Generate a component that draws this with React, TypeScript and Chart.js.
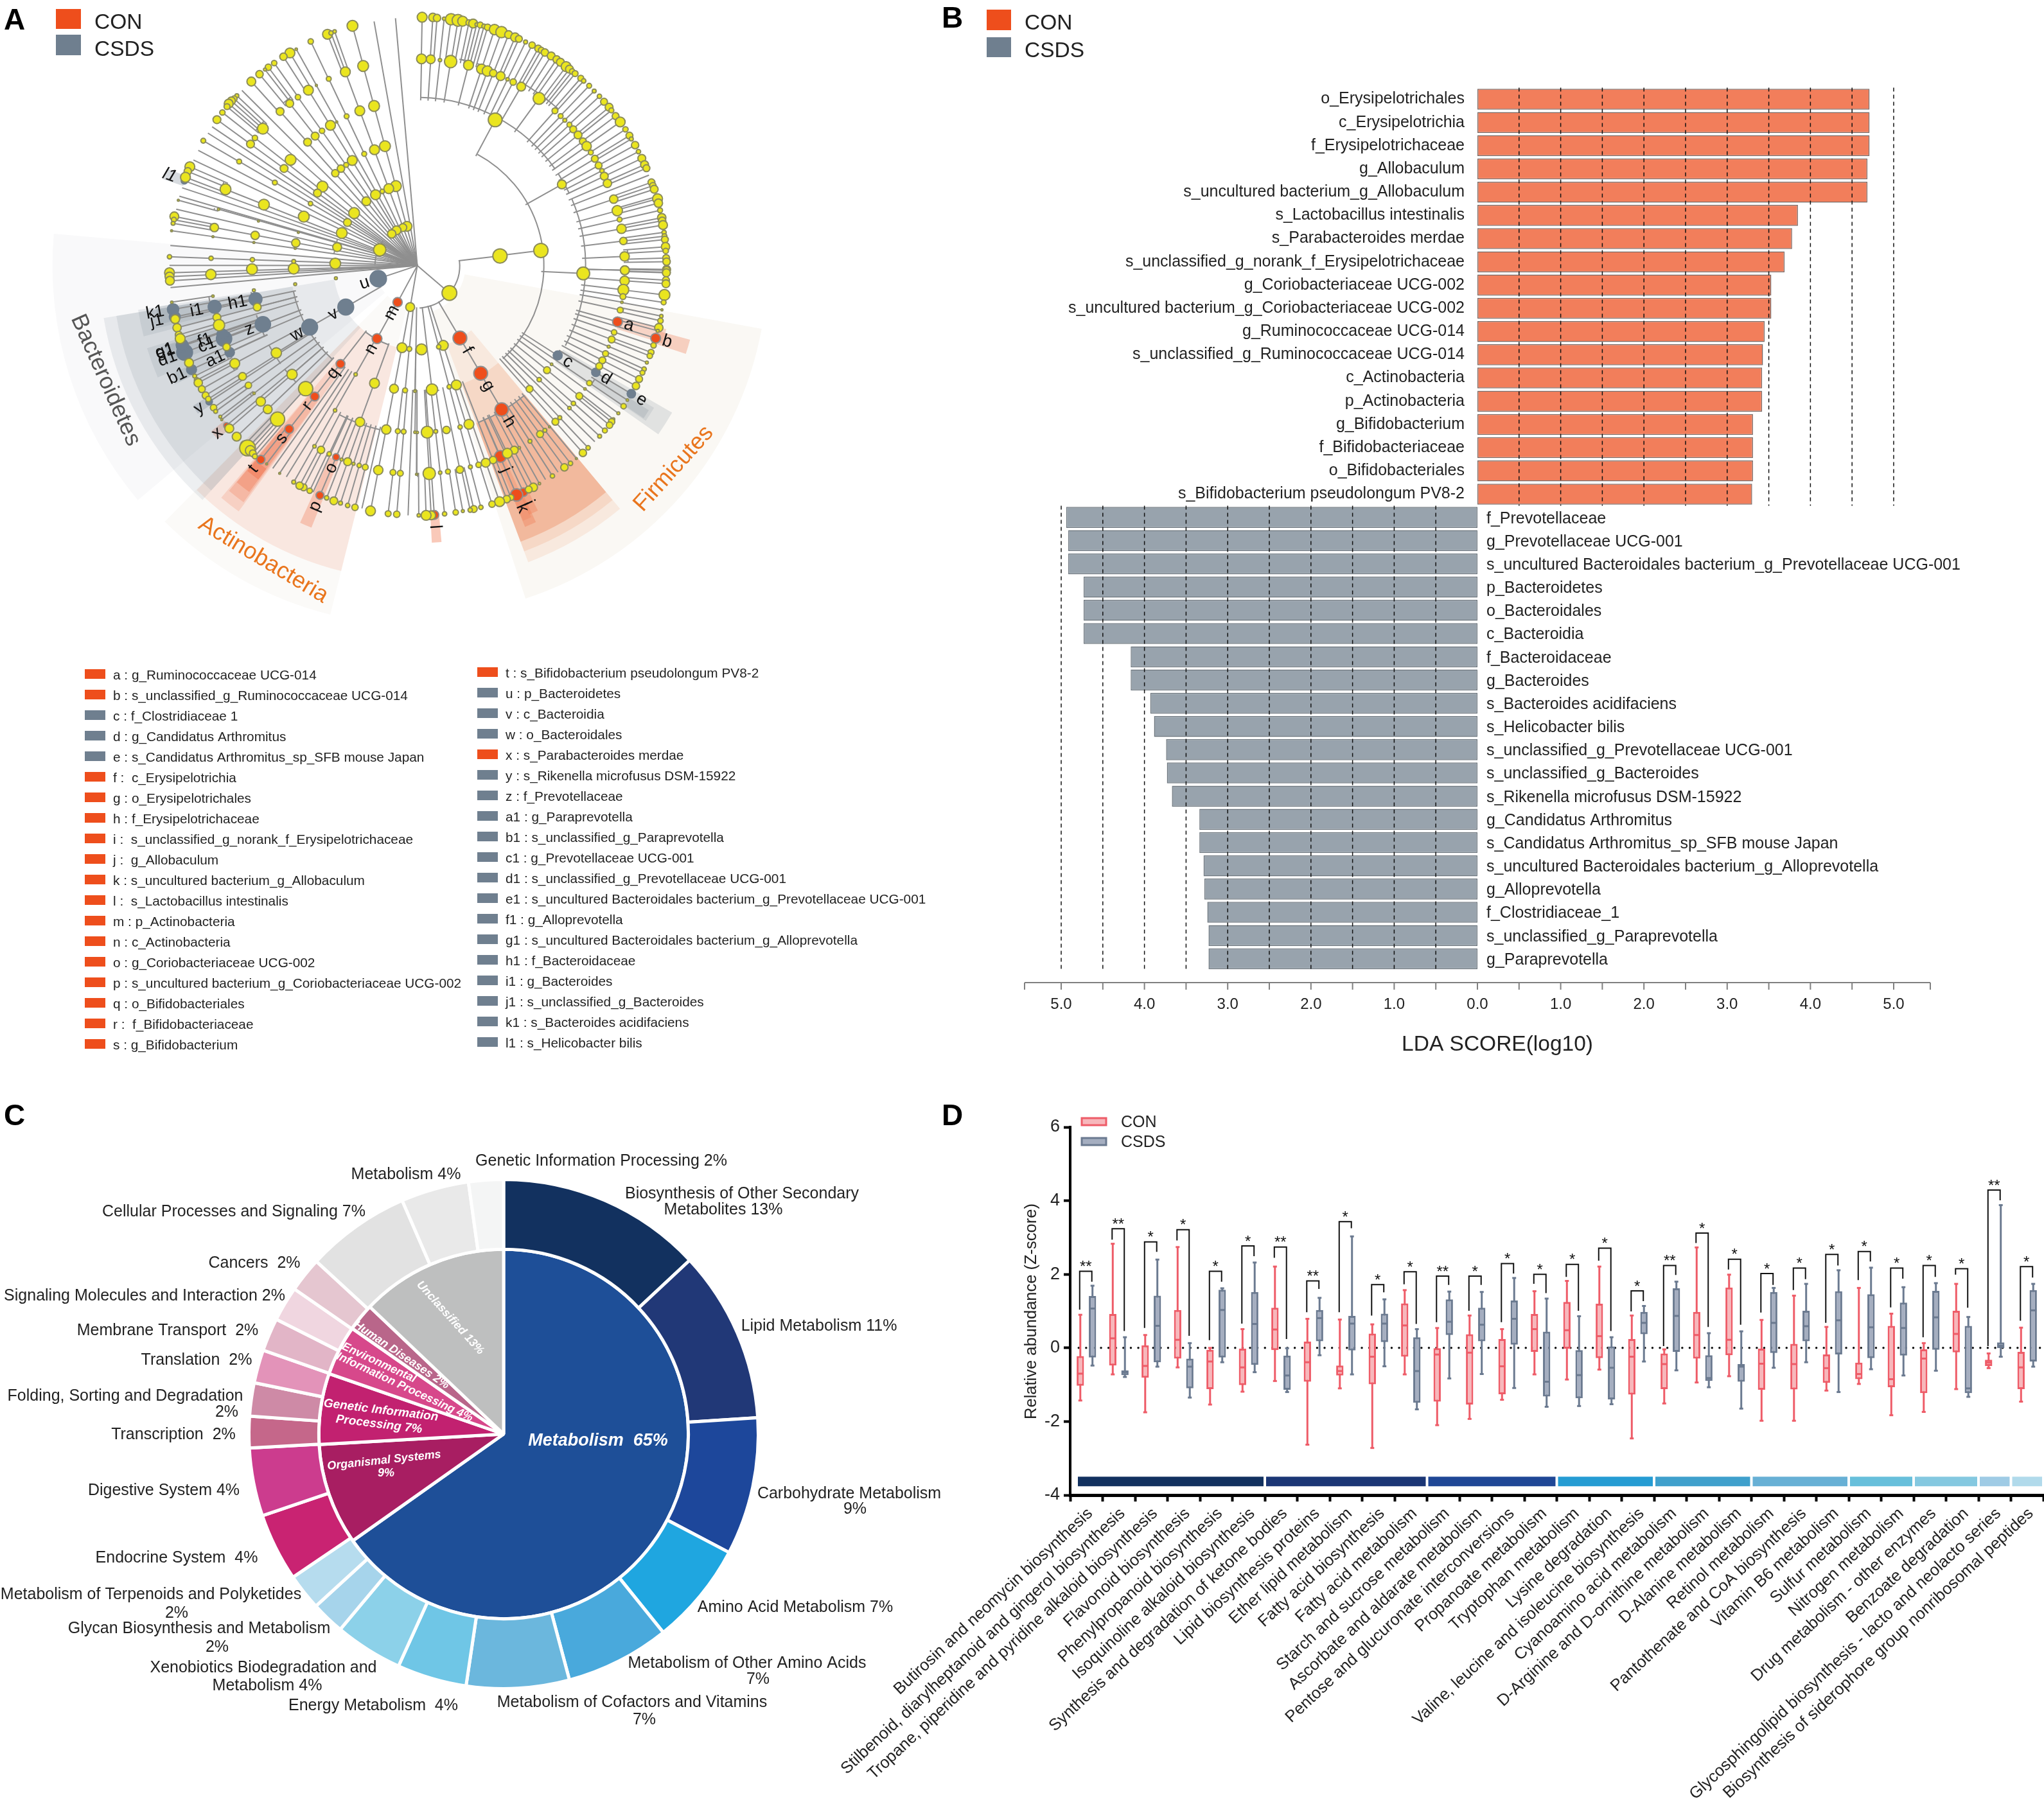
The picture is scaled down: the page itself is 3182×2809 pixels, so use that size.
import React, { useEffect, useRef } from "react";
import { Chart, registerables } from "chart.js";
Chart.register(...registerables);

const FONT = "'Liberation Sans', Arial, sans-serif";
const CON_SWATCH = "#EE4E1C";
const CSDS_SWATCH = "#6F7F8F";

/* ───────── Panel A: cladogram readings, grouped by the quadrant they were read from ───────── */
const ROOT_NW = [1254, 1218];
const ROOT_NE = [24, 1218];
const ROOT_SW = [1254, 18];
const ROOT_SE = [24, 18];

const NW_SPECIES = [[945,78,22],[826,118,20],[843,112,9],[860,105,7],[746,152,11],[677,189,5],[647,207,20],[616,225,15],[572,255,11],[544,275,13],[528,286,6],[502,308,15],[463,343,18],[394,410,8],[381,425,12],[368,435,16],[355,448,18],[347,462,12],[325,490,11],[299,524,16],[234,624,10],[170,748,20],[160,770,15],[149,798,20],[96,984,18],[94,1000,10],[90,1017,8],[73,1176,9],[1048,57,0],[1150,42,0],[418,385,0],[276,558,0],[256,588,0],[210,670,0],[187,716,0],[133,848,0],[120,888,0],[115,907,4],[105,950,0],[83,1052,4],[77,1122,0],[73,1217,0]];
const NW_GENUS = [[996,269,22],[911,297,20],[832,330,10],[773,361,4],[735,384,20],[685,417,11],[646,447,16],[600,485,16],[518,567,22],[480,611,11],[459,640,16],[405,723,10],[340,855,22],[307,950,5],[287,1037,17],[280,1080,4],[271,1183,9]];
const NW_DOTS = [[1048,459,22],[980,482,20],[917,508,10],[870,535,4],[840,551,20],[800,577,11],[767,602,16],[731,631,16],[650,715,22],[619,756,16],[575,823,10],[523,928,22],[497,1006,4],[481,1074,17],[475,1108,4],[468,1190,9],[466,1235,22],[1100,650,22],[1050,667,20],[1001,687,10],[944,718,20],[915,739,10],[890,757,15],[863,779,15],[802,842,22],[778,873,16],[745,923,9],[713,985,22],[687,1060,4],[675,1110,17],[672,1136,4],[665,1198,8],[665,1232,22],[1152,840,22],[1118,852,20],[1087,865,9],[1055,881,20],[1011,912,18],[953,968,22],[921,1013,16],[894,1063,22],[872,1130,18],[863,1208,22],[1205,1031,20],[1185,1037,16],[1155,1050,18],[1132,1067,17],[1075,1143,25]];

const NE_SPECIES = [[47,37,20],[98,38,17],[118,41,15],[152,44,7],[185,47,23],[218,52,24],[240,56,20],[270,63,12],[290,67,18],[307,72,7],[324,74,12],[342,80,9],[359,85,13],[392,96,21],[425,108,23],[459,120,16],[490,133,18],[508,140,14],[540,155,8],[571,170,13],[600,186,14],[615,194,12],[632,205,15],[662,221,16],[688,238,15],[706,251,16],[733,272,20],[749,284,16],[762,295,11],[776,305,12],[803,327,12],[817,340,9],[843,363,10],[867,388,8],[892,413,9],[914,439,14],[938,465,16],[949,480,10],[969,507,14],[991,535,20],[1016,570,11],[1035,600,14],[1044,616,8],[1062,645,15],[1078,676,9],[1094,708,16],[1107,738,16],[1116,755,14],[1128,788,0],[1140,822,14],[1147,838,13],[1153,855,16],[1163,890,10],[1169,900,20],[1173,921,17],[1181,955,10],[1189,990,17],[1191,1005,15],[1195,1025,18],[1200,1060,9],[1202,1078,10],[1204,1094,14],[1207,1128,17],[1208,1148,11],[1210,1182,14],[1212,1199,15],[1212,1236,16],[1211,1250,16]];
const NE_GENUS = [[44,235,20],[88,237,18],[132,241,7],[183,248,25],[268,265,20],[330,283,20],[358,293,21],[386,303,15],[421,317,18],[454,332,7],[481,345,13],[519,367,18],[604,423,24],[680,482,12],[707,507,10],[727,527,8],[749,548,10],[767,570,14],[790,597,16],[813,627,14],[831,650,19],[851,680,10],[870,710,14],[888,742,14],[904,767,9],[915,793,16],[930,827,17],[960,902,17],[977,957,21],[988,999,10],[997,1043,19],[1006,1101,15],[1012,1174,19],[1013,1240,18]];
const NE_FAMILY = [[395,525,28],[713,832,18]];
const NE_ORDER = [[613,1146,29]];
const NE_CLASS = [[418,1172,29]];

const SE_PHYLUM = [[177,148,30]];
const SE_FAMILY = [[815,55,26]];
const SE_SIDE = [[1212,40,15],[1211,52,16],[1209,87,14],[1209,104,16],[1202,157,22],[1198,193,10],[1190,228,4],[1187,258,7],[1183,280,11],[1175,313,17],[1170,328,6],[1150,397,11],[1138,430,12],[1132,447,11],[1118,479,6],[1105,510,9],[1097,527,10],[1081,557,14],[1066,590,15],[1013,40,18],[1012,90,19],[1006,133,22],[1004,165,12],[999,192,5],[991,229,12],[962,335,11],[950,369,14],[936,403,6],[921,436,12],[906,468,14],[891,496,14]];
const SE_LOWER = [[1025,657,5],[1007,686,11],[982,720,6],[958,748,6],[950,760,13],[940,776,13],[918,802,10],[893,829,8],[870,855,0],[838,884,9],[813,908,15]];
const SE_LOWER_GENUS = [[844,576,11],[823,604,5],[796,638,14],[768,673,9],[749,695,7],[703,741,8],[682,760,14]];
const SE_H_SPECIES = [[782,935,4],[754,958,9],[725,977,15],[695,1000,0],[668,1018,9],[635,1035,0],[606,1054,5],[577,1072,17],[555,1082,14],[470,1120,12],[450,1128,15]];
const SE_H_GENUS = [[654,785,3],[632,801,8],[609,819,14],[561,853,8],[510,884,5],[486,895,16],[453,910,20]];
const SE_BOTTOM = [[416,1140,20],[380,1152,13],[327,1167,9],[293,1175,14],[276,1180,9],[241,1185,6],[207,1191,11],[154,1198,9],[90,1205,18],[66,1205,20],[31,1205,7]];
const SE_BOTTOM_GENUS = [[385,942,15],[350,955,18],[316,965,11],[277,975,8],[227,988,15],[170,997,10],[133,1002,7],[81,1006,25],[22,1010,4]];
const SE_CHAINS = [[210,585,20],[176,594,9],[94,607,23],[14,613,5]];
const SE_DOTS = [[664,487,5],[642,515,14],[605,560,9],[559,604,14],[270,772,20],[228,785,9],[163,799,15],[112,806,8],[71,810,24],[24,811,5],[148,397,20],[126,404,9],[44,416,22]];

const SW_FROM_ROOT = [[1220,215,18],[84,192,5],[78,122,0],[73,52,20],[73,70,18],[75,90,18]];
const SW_FROM_66 = [[1181,408,20],[1216,414,10]];
const SW_FROM_131 = [[1143,603,18],[1196,611,10],[1243,615,5],[1050,577,20],[960,535,7]];
const SW_FROM_197 = [[1106,797,19],[1161,805,10],[1189,807,10],[1243,810,5],[1210,1205,0],[981,761,19],[862,706,7],[630,1022,0],[598,1005,3],[565,982,0],[166,480,18],[193,543,8],[203,562,10],[210,575,17],[227,605,14],[245,635,14],[258,652,11],[283,693,13],[293,711,8],[315,736,6],[322,750,4],[358,792,18],[393,831,18],[430,870,16],[445,885,32],[458,897,20],[470,910,14],[480,925,10],[536,960,4],[582,433,21],[657,535,21],[722,603,29],[299,264,16],[309,301,23],[345,405,15],[384,483,20],[421,545,16],[449,587,13],[476,625,5],[508,664,19],[541,701,18],[588,748,29],[491,215,16]];
const SW_FROM_262 = [[1068,990,19],[1138,1001,12],[1173,1005,12],[1250,1010,4],[990,1172,0],[957,1167,13],[922,1158,9],[888,1147,8],[856,1136,16],[822,1122,9],[757,1095,0],[741,1088,11],[712,1072,14],[693,1064,15],[665,1047,8],[100,272,18],[109,313,17],[117,347,14],[124,365,20],[1006,976,12],[977,968,9],[950,960,6],[922,950,16],[893,940,6],[834,913,9],[795,894,15],[764,877,7]];
const SW_FROM_328 = [[1031,1184,20],[1115,1197,12],[1156,1200,13]];
const SW_DOTS = [[280,163,5],[475,135,6],[672,106,6],[866,78,6],[270,60,21]];

const TREE_GROUPS = [
  [NW_SPECIES, ROOT_NW, 0],[NW_GENUS, ROOT_NW, 0],[NW_DOTS, ROOT_NW, -1],
  [NE_SPECIES, ROOT_NE, 262],[NE_GENUS, ROOT_NE, 262],[NE_FAMILY, ROOT_NE, 197],[NE_ORDER, ROOT_NE, 131],[NE_CLASS, ROOT_NE, 66],
  [SE_PHYLUM, ROOT_SE, 0],[SE_FAMILY, ROOT_SE, 197],[SE_SIDE, ROOT_SE, 262],[SE_LOWER, ROOT_SE, 197],[SE_LOWER_GENUS, ROOT_SE, 197],[SE_H_SPECIES, ROOT_SE, 262],[SE_H_GENUS, ROOT_SE, 262],[SE_BOTTOM, ROOT_SE, 197],[SE_BOTTOM_GENUS, ROOT_SE, 197],[SE_CHAINS, ROOT_SE, 66],[SE_DOTS, ROOT_SE, -1],
  [SW_FROM_ROOT, ROOT_SW, 0],[SW_FROM_66, ROOT_SW, 66],[SW_FROM_131, ROOT_SW, 131],[SW_FROM_197, ROOT_SW, 197],[SW_FROM_262, ROOT_SW, 262],[SW_FROM_328, ROOT_SW, 328],[SW_DOTS, ROOT_SW, -1],
];

/* label, quadrant root, reading x, reading y, size, arc radius its branch leaves from */
const CON_NODES = [["a",ROOT_SE,978,285,20,262],["b",ROOT_SE,1160,363,20,262],["f",ROOT_SE,227,362,28,66],["g",ROOT_SE,326,530,28,131],["h",ROOT_SE,426,702,27,197],["i",ROOT_SE,530,1095,17,262],["j",ROOT_SE,420,925,24,262],["k",ROOT_SE,497,1108,25,262],["l",ROOT_SE,105,1203,18,197],["m",ROOT_SW,1160,192,19,0],["n",ROOT_SW,1062,365,20,66],["o",ROOT_SW,867,928,14,262],["p",ROOT_SW,790,1110,16,262],["q",ROOT_SW,888,485,18,131],["r",ROOT_SW,765,640,18,197],["s",ROOT_SW,643,795,18,262],["t",ROOT_SW,508,940,17,328],["x",ROOT_SW,345,778,12,262]];
const CSDS_NODES = [["c",ROOT_SE,693,445,18,197],["d",ROOT_SE,875,525,17,262],["e",ROOT_SE,1044,627,17,262],["u",ROOT_SW,1068,80,33,0],["v",ROOT_SW,913,215,32,66],["w",ROOT_SW,741,310,32,131],["y",ROOT_SW,262,665,13,262],["z",ROOT_SW,518,297,31,197],["a1",ROOT_SW,360,430,19,262],["b1",ROOT_SW,178,512,20,262],["c1",ROOT_SW,333,365,31,262],["d1",ROOT_SW,145,430,32,262],["e1",ROOT_SW,135,400,24,262],["f1",ROOT_SW,325,345,22,262],["g1",ROOT_SW,133,395,24,262],["h1",ROOT_SW,483,177,26,197],["i1",ROOT_SW,288,214,26,262],["j1",ROOT_SW,98,262,22,262],["k1",ROOT_SW,90,226,23,262],["l1",ROOT_NW,144,815,13,0]];

const TREE_ARCS = [[66,83.5,177],[197,28.4,137.4],[262,1.3,55],[262,56.8,64.6],[262,66.7,118.4],[262,140.4,158.7],[131,200,218],[262,192.7,207.8],[197,222.2,258.5],[262,245,252.9],[262,234.3,241.8],[262,226,232],[262,256,261],[66,271,306.6],[131,278,288.2],[197,170,176.5],[328,32.7,39.7],[328,11.5,15]];

const CLADE_SHADES = [
  [75,545,100.4,162,"#FAF8F4"],[66,568,230,275,"#F9F9FA"],[66,560,194,224.6,"#FBFAF8"],
  [131,493,140.2,159.5,"rgba(240,140,90,0.14)"],[197,475,140.2,159.5,"rgba(240,140,90,0.18)"],[262,459,140.2,159.5,"rgba(235,130,85,0.36)"],[328,430,155.6,157.5,"rgba(240,120,80,0.25)"],[390,440,155.2,157.6,"rgba(240,120,80,0.35)"],[390,425,153.8,155.8,"rgba(240,120,80,0.35)"],
  [131,490,194,224.5,"rgba(240,120,80,0.14)"],[197,473,216,220.2,"rgba(240,120,80,0.2)"],[262,457,216.3,219.9,"rgba(240,110,70,0.25)"],[328,439,216.6,219.8,"rgba(240,110,70,0.3)"],[394,415,216.6,219.6,"rgba(240,100,60,0.35)"],[328,440,202,204.5,"rgba(240,110,70,0.3)"],[390,432,175,177,"rgba(240,120,80,0.4)"],[385,412,229,231.2,"rgba(240,120,80,0.28)"],
  [326,400,104.3,107.6,"rgba(240,120,80,0.28)"],[385,440,105.2,108.2,"rgba(240,120,80,0.32)"],
  [262,458,120,125,"rgba(110,125,140,0.18)"],[328,430,121,124.2,"rgba(110,125,140,0.14)"],[390,425,122,124,"rgba(110,125,140,0.18)"],
  [131,495,222.5,260.5,"rgba(110,125,140,0.12)"],[197,475,222.5,260.5,"rgba(110,125,140,0.14)"],
  [262,440,246.7,253,"rgba(110,125,140,0.14)"],[262,440,255.5,261,"rgba(110,125,140,0.14)"],[328,420,256.5,260.5,"rgba(110,125,140,0.14)"],[390,412,259,261,"rgba(110,125,140,0.18)"],[390,412,257.2,259,"rgba(110,125,140,0.18)"],[328,420,248.3,250.5,"rgba(110,125,140,0.14)"],[328,420,250.5,252.5,"rgba(110,125,140,0.14)"],[390,412,248.6,250.5,"rgba(110,125,140,0.18)"],[390,412,250.7,252.3,"rgba(110,125,140,0.18)"],[328,420,243.9,246.7,"rgba(110,125,140,0.14)"],[390,412,244,246.3,"rgba(110,125,140,0.18)"],[385,412,236,238,"rgba(110,125,140,0.25)"],[385,418,288.8,291.2,"rgba(110,125,140,0.28)"],
];

const LEGEND_LEFT = ["a : g_Ruminococcaceae UCG-014","b : s_unclassified_g_Ruminococcaceae UCG-014","c : f_Clostridiaceae 1","d : g_Candidatus Arthromitus","e : s_Candidatus Arthromitus_sp_SFB mouse Japan","f :  c_Erysipelotrichia","g : o_Erysipelotrichales","h : f_Erysipelotrichaceae","i :  s_unclassified_g_norank_f_Erysipelotrichaceae","j :  g_Allobaculum","k : s_uncultured bacterium_g_Allobaculum","l :  s_Lactobacillus intestinalis","m : p_Actinobacteria","n : c_Actinobacteria","o : g_Coriobacteriaceae UCG-002","p : s_uncultured bacterium_g_Coriobacteriaceae UCG-002","q : o_Bifidobacteriales","r :  f_Bifidobacteriaceae","s : g_Bifidobacterium"];
const LEGEND_LEFT_GROUP = ["CON","CON","CSDS","CSDS","CSDS","CON","CON","CON","CON","CON","CON","CON","CON","CON","CON","CON","CON","CON","CON"];
const LEGEND_RIGHT = ["t : s_Bifidobacterium pseudolongum PV8-2","u : p_Bacteroidetes","v : c_Bacteroidia","w : o_Bacteroidales","x : s_Parabacteroides merdae","y : s_Rikenella microfusus DSM-15922","z : f_Prevotellaceae","a1 : g_Paraprevotella","b1 : s_unclassified_g_Paraprevotella","c1 : g_Prevotellaceae UCG-001","d1 : s_unclassified_g_Prevotellaceae UCG-001","e1 : s_uncultured Bacteroidales bacterium_g_Prevotellaceae UCG-001","f1 : g_Alloprevotella","g1 : s_uncultured Bacteroidales bacterium_g_Alloprevotella","h1 : f_Bacteroidaceae","i1 : g_Bacteroides","j1 : s_unclassified_g_Bacteroides","k1 : s_Bacteroides acidifaciens","l1 : s_Helicobacter bilis"];
const LEGEND_RIGHT_GROUP = ["CON","CSDS","CSDS","CSDS","CON","CSDS","CSDS","CSDS","CSDS","CSDS","CSDS","CSDS","CSDS","CSDS","CSDS","CSDS","CSDS","CSDS","CSDS"];

/* ───────── Panel B ───────── */
const LDA_CON_NAMES = ["o_Erysipelotrichales","c_Erysipelotrichia","f_Erysipelotrichaceae","g_Allobaculum","s_uncultured bacterium_g_Allobaculum","s_Lactobacillus intestinalis","s_Parabacteroides merdae","s_unclassified_g_norank_f_Erysipelotrichaceae","g_Coriobacteriaceae UCG-002","s_uncultured bacterium_g_Coriobacteriaceae UCG-002","g_Ruminococcaceae UCG-014","s_unclassified_g_Ruminococcaceae UCG-014","c_Actinobacteria","p_Actinobacteria","g_Bifidobacterium","f_Bifidobacteriaceae","o_Bifidobacteriales","s_Bifidobacterium pseudolongum PV8-2"];
const LDA_CON_VALUES = [4.71,4.71,4.71,4.685,4.685,3.85,3.78,3.69,3.53,3.53,3.45,3.43,3.42,3.42,3.31,3.31,3.31,3.30];
const LDA_CSDS_NAMES = ["f_Prevotellaceae","g_Prevotellaceae UCG-001","s_uncultured Bacteroidales bacterium_g_Prevotellaceae UCG-001","p_Bacteroidetes","o_Bacteroidales","c_Bacteroidia","f_Bacteroidaceae","g_Bacteroides","s_Bacteroides acidifaciens","s_Helicobacter bilis","s_unclassified_g_Prevotellaceae UCG-001","s_unclassified_g_Bacteroides","s_Rikenella microfusus DSM-15922","g_Candidatus Arthromitus","s_Candidatus Arthromitus_sp_SFB mouse Japan","s_uncultured Bacteroidales bacterium_g_Alloprevotella","g_Alloprevotella","f_Clostridiaceae_1","s_unclassified_g_Paraprevotella","g_Paraprevotella"];
const LDA_CSDS_VALUES = [4.94,4.915,4.915,4.73,4.73,4.73,4.165,4.165,3.93,3.885,3.74,3.73,3.67,3.34,3.34,3.29,3.28,3.245,3.23,3.23];

/* ───────── Panel C ───────── */
const PIE_OUTER_NAMES = ["Biosynthesis of Other Secondary Metabolites","Lipid Metabolism","Carbohydrate Metabolism","Amino Acid Metabolism","Metabolism of Other Amino Acids","Metabolism of Cofactors and Vitamins","Energy Metabolism","Xenobiotics Biodegradation and Metabolism","Glycan Biosynthesis and Metabolism","Metabolism of Terpenoids and Polyketides","Endocrine System","Digestive System","Transcription","Folding, Sorting and Degradation","Translation","Membrane Transport","Signaling Molecules and Interaction","Cancers","Cellular Processes and Signaling","Metabolism","Genetic Information Processing"];
const PIE_OUTER_VALUES = [13,10.9,8.7,6.5,6.6,6.5,4.4,4.3,2.1,2.3,4.3,4.3,2,2.1,2.1,2.1,2.2,2.2,6.6,4.3,2.2];
const PIE_OUTER_COLORS = ["#12315F","#213877","#1D479B","#1FA6E0","#49A9DC","#6BB7DD","#6FC6E6","#8CD1E9","#A6D4EB","#B6DCEE","#C92372","#CC3C8E","#C5678A","#CE8AA6","#E393B9","#E2B5C7","#F0D6E0","#E5C6D0","#E2E2E2","#E9E9E9","#F4F5F5"];
const PIE_INNER_VALUES = [65.2,8.9,6.2,4.4,2.4,12.9];
const PIE_INNER_COLORS = ["#1E4F98","#A81E62","#C22170","#D7488B","#B9668A","#BEBFBF"];
const PIE_TEXT = [
  ["Genetic Information Processing 2%",936,1808],["Metabolism 4%",632,1829],["Biosynthesis of Other Secondary",1155,1859],["Metabolites 13%",1126,1884],["Cellular Processes and Signaling 7%",364,1887],["Cancers  2%",396,1967],["Signaling Molecules and Interaction 2%",225,2018],["Membrane Transport  2%",261,2072],["Translation  2%",306,2118],["Folding, Sorting and Degradation",195,2174],["2%",353,2199],["Transcription  2%",270,2234],["Digestive System 4%",255,2321],["Endocrine System  4%",275,2426],["Metabolism of Terpenoids and Polyketides",235,2483],["2%",275,2512],["Glycan Biosynthesis and Metabolism",310,2536],["2%",338,2565],["Xenobiotics Biodegradation and",410,2597],["Metabolism 4%",416,2625],["Energy Metabolism  4%",581,2656],["Metabolism of Cofactors and Vitamins",984,2651],["7%",1003,2678],["Metabolism of Other Amino Acids",1163,2590],["7%",1180,2615],["Amino Acid Metabolism 7%",1238,2503],["Carbohydrate Metabolism",1322,2326],["9%",1331,2350],["Lipid Metabolism 11%",1275,2065],
];
const PIE_INNER_TEXT = [
  ["Metabolism  65%",931,2244,0,27],["Organismal Systems",598,2274,-6,18],["9%",601,2294,0,18],["Genetic Information",593,2196,7,19],["Processing 7%",590,2218,7,19],["Environmental",590,2122,25,18],["Information Processing 4%",630,2160,25,18],["Human Diseases 2%",625,2110,34,18],["Unclassified 13%",701,2052,48,18],
];

/* ───────── Panel D ───────── */
const PATHWAYS = ["Butirosin and neomycin biosynthesis","Stilbenoid, diarylheptanoid and gingerol biosynthesis","Tropane, piperidine and pyridine alkaloid biosynthesis","Flavonoid biosynthesis","Phenylpropanoid biosynthesis","Isoquinoline alkaloid biosynthesis","Synthesis and degradation of ketone bodies","Lipid biosynthesis proteins","Ether lipid metabolism","Fatty acid biosynthesis","Fatty acid metabolism","Starch and sucrose metabolism","Ascorbate and aldarate metabolism","Pentose and glucuronate interconversions","Propanoate metabolism","Tryptophan metabolism","Lysine degradation","Valine, leucine and isoleucine biosynthesis","Cyanoamino acid metabolism","D-Arginine and D-ornithine metabolism","D-Alanine metabolism","Retinol metabolism","Pantothenate and CoA biosynthesis","Vitamin B6 metabolism","Sulfur metabolism","Nitrogen metabolism","Drug metabolism - other enzymes","Benzoate degradation","Glycosphingolipid biosynthesis - lacto and neolacto series","Biosynthesis of siderophore group nonribosomal peptides"];
/* low, q1, median, q3, high */
const BOX_CON = [[-1.43,-1.03,-0.70,-0.22,0.90],[-0.72,-0.48,0.26,0.92,2.83],[-1.75,-0.81,-0.49,0.07,0.35],[-0.53,-0.29,0.22,1.03,2.74],[-1.54,-1.12,-0.37,-0.05,0.0],[-1.19,-1.01,-0.53,-0.02,0.51],[-0.90,-0.06,0.50,1.09,2.21],[-2.63,-0.92,-0.39,0.17,0.79],[-1.10,-0.75,-0.63,-0.48,0.77],[-2.72,-0.99,-0.24,0.39,0.64],[-0.72,-0.24,0.61,1.21,1.57],[-2.10,-1.46,-0.18,-0.01,0.54],[-1.93,-1.54,-0.13,0.37,0.88],[-1.41,-1.26,-0.50,0.24,0.51],[-0.72,-0.11,0.51,0.92,1.54],[-0.86,-0.02,0.48,1.25,1.82],[-0.59,-0.28,0.32,1.20,2.21],[-2.46,-1.27,-0.24,0.24,0.88],[-1.51,-1.12,-0.44,-0.15,-0.04],[-0.94,-0.29,0.35,0.98,2.73],[-0.77,-0.20,0.22,1.64,1.99],[-1.98,-1.14,-0.43,-0.02,0.76],[-1.98,-1.13,-0.44,0.11,1.42],[-1.16,-0.95,-0.55,-0.18,0.57],[-0.98,-0.85,-0.71,-0.40,1.63],[-1.83,-1.07,-0.85,0.60,0.93],[-1.74,-1.23,-0.29,-0.04,0.13],[-1.12,-0.12,0.38,1.01,1.74],[-0.55,-0.49,-0.40,-0.32,-0.15],[-1.46,-1.12,-0.53,-0.11,0.55]];
const BOX_CSDS = [[-0.48,-0.26,1.07,1.41,1.69],[-0.79,-0.74,-0.66,-0.61,0.29],[-0.51,-0.39,0.60,1.42,2.40],[-1.35,-1.10,-0.51,-0.29,0.13],[-0.39,-0.26,1.03,1.58,1.62],[-0.66,-0.46,0.65,1.52,2.32],[-1.20,-1.14,-0.75,-0.21,-0.01],[-0.20,0.18,0.81,1.03,1.36],[-0.72,-0.07,0.66,0.87,3.03],[-0.50,0.16,0.66,0.93,1.32],[-1.67,-1.49,-0.63,0.29,0.51],[-0.83,0.35,0.71,1.32,1.53],[-0.71,0.18,0.63,1.09,1.52],[-1.09,0.09,0.79,1.29,1.90],[-1.60,-1.32,-0.92,0.44,1.34],[-1.58,-1.37,-0.74,-0.06,0.86],[-1.53,-1.40,-0.54,0.04,0.29],[-0.37,0.37,0.68,0.98,1.14],[-0.61,-0.11,0.87,1.62,1.80],[-1.07,-0.90,-0.82,-0.20,0.40],[-1.65,-0.92,-0.51,-0.44,0.45],[-0.54,-0.14,0.68,1.52,1.63],[-0.39,0.18,0.59,1.01,1.74],[-1.20,-0.18,0.75,1.54,2.11],[-0.58,-0.28,0.56,1.46,2.18],[-0.75,-0.21,0.54,1.23,1.65],[-0.62,-0.05,0.83,1.55,1.76],[-1.33,-1.23,-1.10,0.60,0.84],[-0.24,-0.01,0.06,0.15,3.88],[-0.51,-0.37,1.02,1.57,1.74]];
/* bracket top, left foot, right foot */
const BRACKETS = [[2.08,1.04,1.80],[3.24,2.94,0.46],[2.88,0.54,2.61],[3.21,2.92,0.33],[2.08,0.21,1.80],[2.77,0.66,2.49],[2.74,2.45,0.24],[1.82,0.97,1.60],[3.43,0.97,3.25],[1.72,0.88,1.51],[2.07,1.73,0.65],[1.95,0.70,1.71],[1.95,1.01,1.71],[2.29,0.70,2.02],[2.0,1.74,1.49],[2.27,1.93,1.01],[2.71,2.37,0.46],[1.55,0.99,1.27],[2.24,0.05,1.98],[3.12,2.85,0.57],[2.41,2.13,0.63],[2.02,0.96,1.71],[2.17,1.57,1.87],[2.54,0.68,2.24],[2.62,1.84,2.35],[2.17,1.10,1.88],[2.24,0.29,1.93],[2.15,1.99,1.09],[4.29,0.05,4.01],[2.21,0.74,1.91]];
const STARS = ["**","**","*","*","*","*","**","**","*","*","*","**","*","*","*","*","*","*","**","*","*","*","*","*","*","*","*","*","**","*"];
const BAND_SIZES = [6,5,4,3,3,3,2,2,1,1];
const BAND_COLORS = ["#12315F","#1B3675","#1F4796","#259CD3","#3FA0CC","#67B0D5","#67BFDB","#84C8E0","#9FCBE5","#B1DAEB"];

/* ───────── helpers ───────── */
function text(ctx, s, x, y, o: any = {}) {
  ctx.save();
  ctx.font = o.font || `24px ${FONT}`;
  ctx.fillStyle = o.color || "#111";
  ctx.textAlign = o.align || "left";
  ctx.textBaseline = o.baseline || "middle";
  ctx.translate(x, y);
  if (o.rot) ctx.rotate((o.rot * Math.PI) / 180);
  ctx.fillText(s, 0, 0);
  ctx.restore();
}
const base = { responsive: false, animation: false, devicePixelRatio: 1 };
const noPlugins = { legend: { display: false }, tooltip: { enabled: false } };

function legendSwatches(ctx, x, swatchW, textX, rows) {
  rows.forEach(([label, color, y0, y1, ty]) => {
    ctx.fillStyle = color;
    ctx.fillRect(x, y0, swatchW, y1 - y0);
    text(ctx, label, textX, ty, { font: `33.5px ${FONT}`, color: "#222" });
  });
}

/* tree units are px relative to the root; positive y is downward */
const DOT_SCALE = 1.15 / 3;
function treePoint(node, root) {
  return { x: (node[0] - root[0]) / 3, y: (node[1] - root[1]) / 3, r: node[2] * DOT_SCALE };
}
function colouredPoint(n) {
  return { x: (n[2] - n[1][0]) / 3, y: (n[3] - n[1][1]) / 3, r: n[4] * DOT_SCALE };
}
const bearing = (p) => {
  const a = (Math.atan2(p.x, -p.y) * 180) / Math.PI;
  return a < 0 ? a + 360 : a;
};

/* ───────── charts ───────── */
function panelA(canvas) {
  const yellow = [];
  TREE_GROUPS.forEach(([nodes, root]: any) => nodes.forEach((n) => { if (n[2] > 0) yellow.push(treePoint(n, root)); }));
  const treePlugin = {
    id: "tree",
    beforeDatasetsDraw(chart) {
      const { ctx, scales: { x: X, y: Y } } = chart;
      const cx = X.getPixelForValue(0), cy = Y.getPixelForValue(0);
      const rad = (a) => ((a - 90) * Math.PI) / 180;
      CLADE_SHADES.forEach(([r1, r2, a1, a2, color]: any) => {
        ctx.beginPath();
        ctx.arc(cx, cy, r2, rad(a1), rad(a2));
        ctx.arc(cx, cy, r1, rad(a2), rad(a1), true);
        ctx.closePath();
        ctx.fillStyle = color;
        ctx.fill();
      });
      ctx.strokeStyle = "#8F8F8F";
      ctx.lineWidth = 2;
      const line = (p, from) => {
        const r = Math.hypot(p.x, p.y);
        ctx.beginPath();
        ctx.moveTo(X.getPixelForValue((p.x / r) * from), Y.getPixelForValue((p.y / r) * from));
        ctx.lineTo(X.getPixelForValue(p.x), Y.getPixelForValue(p.y));
        ctx.stroke();
      };
      const arc = (r, a1, a2) => {
        ctx.beginPath();
        ctx.arc(cx, cy, r, rad(Math.min(a1, a2)), rad(Math.max(a1, a2)));
        ctx.stroke();
      };
      /* every drawn genus-level node can collect the species next to it */
      const genusBearings = [];
      const noteGenus = (p) => { const r = Math.hypot(p.x, p.y); if (r > 300 && r < 350) genusBearings.push(bearing(p)); };
      TREE_GROUPS.forEach(([nodes, root, from]: any) => { if (from >= 0) nodes.forEach((n) => { if (n[2] > 0) noteGenus(treePoint(n, root)); }); });
      [...CON_NODES, ...CSDS_NODES].forEach((n) => noteGenus(colouredPoint(n)));
      TREE_GROUPS.forEach(([nodes, root, from]: any) => {
        if (from < 0) return;
        nodes.forEach((n) => {
          const p = treePoint(n, root);
          const r = Math.hypot(p.x, p.y);
          if (n[2] > 0 && r > 365 && from <= 328) {
            const a = bearing(p);
            let best = null;
            genusBearings.forEach((g) => { if (best === null || Math.abs(g - a) < Math.abs(best - a)) best = g; });
            if (best !== null && Math.abs(best - a) <= 3.2) {
              line(p, 328);
              arc(328, a, best);
              return;
            }
          }
          line(p, from);
        });
      });
      [...CON_NODES, ...CSDS_NODES].forEach((n: any) => line(colouredPoint(n), n[5]));
      TREE_ARCS.forEach(([r, a1, a2]) => arc(r, a1, a2));
    },
    afterDraw(chart) {
      const { ctx, scales: { x: X, y: Y } } = chart;
      [...CON_NODES, ...CSDS_NODES].forEach((n: any) => {
        const p = colouredPoint(n);
        const r = Math.hypot(p.x, p.y);
        const a = bearing(p);
        const rot = a < 180 ? a - 90 : a - 270;
        const off = 19 + (n[0].length > 1 ? 6 : 0) + (p.r > 8 ? 4 : 0);
        text(ctx, n[0], X.getPixelForValue((p.x / r) * (r + off)), Y.getPixelForValue((p.y / r) * (r + off)), { rot, align: "center", font: `${n[0] === "l1" ? "italic " : ""}27px ${FONT}`, color: "#111" });
      });
      text(ctx, "Firmicutes", 1049, 730, { rot: -48, align: "center", font: `36px ${FONT}`, color: "#E9751D" });
      text(ctx, "Actinobacteria", 410, 872, { rot: 31, align: "center", font: `36px ${FONT}`, color: "#E9751D" });
      text(ctx, "Bacteroidetes", 164, 592, { rot: 66, align: "center", font: `36px ${FONT}`, color: "#555" });
      text(ctx, "A", 6, 33, { font: `bold 46px ${FONT}`, color: "#000" });
      legendSwatches(ctx, 87, 39, 147, [["CON", CON_SWATCH, 14, 45, 36], ["CSDS", CSDS_SWATCH, 54, 86, 78]]);
      const list = (names, groups, sx, tx, y0) => names.forEach((s, i) => {
        const y = y0 + i * 32;
        ctx.fillStyle = groups[i] === "CON" ? CON_SWATCH : CSDS_SWATCH;
        ctx.fillRect(sx, y - 8, 32, 15);
        text(ctx, s, tx, y + 2, { font: `20.8px ${FONT}`, color: "#222" });
      });
      list(LEGEND_LEFT, LEGEND_LEFT_GROUP, 132, 176, 1050);
      list(LEGEND_RIGHT, LEGEND_RIGHT_GROUP, 743, 787, 1047);
    },
  };
  const pointOpts = { pointBorderWidth: 2, pointRadius: (c) => Math.max(c.raw?.r ?? 2, 1.5), showLine: false };
  return new Chart(canvas, {
    type: "scatter",
    data: {
      datasets: [
        { label: "Not significant", data: yellow, backgroundColor: "#EAE51F", borderColor: "#8C8C5A", ...pointOpts },
        { label: "CON", data: CON_NODES.map(colouredPoint), backgroundColor: CON_SWATCH, borderColor: "#8F8F8F", ...pointOpts },
        { label: "CSDS", data: CSDS_NODES.map(colouredPoint), backgroundColor: CSDS_SWATCH, borderColor: "#6F7F8F", ...pointOpts },
      ],
    },
    options: {
      ...base,
      plugins: noPlugins,
      layout: { padding: 0 },
      scales: {
        x: { type: "linear", display: false, min: -648, max: 812 },
        y: { type: "linear", display: false, reverse: true, min: -406, max: 1284 },
      },
    },
    plugins: [treePlugin],
  });
}

function panelB(canvas, left) {
  const nCon = LDA_CON_NAMES.length;
  const names = [...LDA_CON_NAMES, ...LDA_CSDS_NAMES];
  const values = [...LDA_CON_VALUES, ...LDA_CSDS_VALUES.map((v) => -v)];
  const plugin = {
    id: "lda",
    afterDatasetsDraw(chart) {
      const { ctx, scales: { x: X, y: Y }, chartArea: ca } = chart;
      ctx.save();
      const split = (Y.getPixelForValue(nCon - 1) + Y.getPixelForValue(nCon)) / 2;
      ctx.strokeStyle = "#111";
      ctx.lineWidth = 1.5;
      ctx.setLineDash([6, 5]);
      for (let v = 0.5; v <= 5; v += 0.5) {
        ctx.beginPath(); ctx.moveTo(X.getPixelForValue(v), ca.top); ctx.lineTo(X.getPixelForValue(v), split); ctx.stroke();
        ctx.beginPath(); ctx.moveTo(X.getPixelForValue(-v), split); ctx.lineTo(X.getPixelForValue(-v), ca.bottom); ctx.stroke();
      }
      ctx.setLineDash([]);
      const axisY = 1530;
      ctx.strokeStyle = "#808080";
      ctx.lineWidth = 2;
      ctx.beginPath(); ctx.moveTo(ca.left, axisY); ctx.lineTo(ca.right, axisY); ctx.stroke();
      const tick = (px) => { ctx.beginPath(); ctx.moveTo(px, axisY); ctx.lineTo(px, axisY + 11); ctx.stroke(); };
      tick(ca.left); tick(ca.right);
      for (let v = -5; v <= 5; v += 0.5) tick(X.getPixelForValue(v));
      ctx.restore();
      names.forEach((s, i) => {
        const y = Y.getPixelForValue(i);
        if (i < nCon) text(ctx, s, X.getPixelForValue(0) - 20, y, { align: "right", font: `25px ${FONT}`, color: "#222" });
        else text(ctx, s, X.getPixelForValue(0) + 14, y + 2, { font: `25px ${FONT}`, color: "#222" });
      });
      text(ctx, "LDA SCORE(log10)", 2331 - left, 1627, { align: "center", font: `33.5px ${FONT}`, color: "#222" });
      text(ctx, "B", 1466 - left, 30, { font: `bold 46px ${FONT}`, color: "#000" });
      ctx.save();
      ctx.translate(-left, 0);
      legendSwatches(ctx, 1536, 38, 1595, [["CON", CON_SWATCH, 15, 47, 37], ["CSDS", CSDS_SWATCH, 58, 89, 80]]);
      ctx.restore();
    },
  };
  return new Chart(canvas, {
    type: "bar",
    data: {
      labels: names,
      datasets: [{
        label: "LDA",
        data: values,
        backgroundColor: values.map((v) => (v > 0 ? "#F27E5B" : "#98A3AD")),
        borderColor: values.map((v) => (v > 0 ? "#7A6A66" : "#6D767E")),
        borderWidth: 1.5,
        barPercentage: 0.9,
        categoryPercentage: 1,
        borderSkipped: false,
      }],
    },
    options: {
      ...base,
      indexAxis: "y",
      plugins: noPlugins,
      layout: { padding: { left: 1595 - left, right: 3182 - 3005, top: 136.4, bottom: 0 } },
      scales: {
        y: { type: "category", display: false },
        x: {
          type: "linear",
          min: -5.44,
          max: 5.44,
          grid: { display: false, drawTicks: false },
          border: { display: false },
          ticks: {
            stepSize: 0.5,
            includeBounds: false,
            autoSkip: false,
            maxRotation: 0,
            padding: 39,
            color: "#222",
            font: { family: "Liberation Sans", size: 24 },
            callback: (v) => (Number.isInteger(v) ? Math.abs(v).toFixed(1) : ""),
          },
          afterFit: (s) => { s.height = 1690 - 1511; },
        },
      },
    },
    plugins: [plugin],
  });
}

function panelC(canvas, top) {
  const plugin = {
    id: "pieText",
    afterDraw(chart) {
      const { ctx } = chart;
      PIE_TEXT.forEach(([s, x, y]: any) => text(ctx, s, x, y - top, { align: "center", font: `25px ${FONT}`, color: "#222" }));
      PIE_INNER_TEXT.forEach(([s, x, y, rot, size]: any) => text(ctx, s, x, y - top, { align: "center", rot, font: `italic bold ${size}px ${FONT}`, color: "#fff" }));
      text(ctx, "C", 6, 1739 - top, { font: `bold 46px ${FONT}`, color: "#000" });
    },
  };
  const R = 399, CX = 784, CY = 2233;
  return new Chart(canvas, {
    type: "doughnut",
    data: {
      labels: PIE_OUTER_NAMES,
      datasets: [
        { label: "Level 2", data: PIE_OUTER_VALUES, backgroundColor: PIE_OUTER_COLORS, borderColor: "#fff", borderWidth: 5, weight: 109 },
        { label: "Level 1", data: PIE_INNER_VALUES, backgroundColor: PIE_INNER_COLORS, borderColor: "#fff", borderWidth: 5, weight: 288 },
      ],
    },
    options: {
      ...base,
      cutout: 0,
      plugins: noPlugins,
      layout: { padding: { left: CX - R, top: CY - R - top, right: 1500 - CX - R, bottom: 2809 - CY - R } },
    },
    plugins: [plugin],
  });
}

function panelD(canvas, left, top) {
  const plugin = {
    id: "boxes",
    beforeDatasetsDraw(chart) {
      const { ctx, scales: { x: X, y: Y }, chartArea: ca } = chart;
      ctx.save();
      ctx.strokeStyle = "#111";
      ctx.lineWidth = 3.5;
      ctx.lineCap = "round";
      ctx.setLineDash([0, 11.6]);
      ctx.beginPath(); ctx.moveTo(X.getPixelForValue(0) - 12, Y.getPixelForValue(0)); ctx.lineTo(ca.right - 2, Y.getPixelForValue(0)); ctx.stroke();
      ctx.setLineDash([]);
      ctx.lineCap = "butt";
      let start = 0;
      BAND_SIZES.forEach((n, i) => {
        const pitch = X.getPixelForValue(1) - X.getPixelForValue(0);
        const x0 = X.getPixelForValue(start) - pitch / 2 + (i === 0 ? 12 : 2);
        const x1 = X.getPixelForValue(start + n - 1) + pitch / 2 - 2;
        ctx.fillStyle = BAND_COLORS[i];
        ctx.fillRect(x0, Y.getPixelForValue(-3.5), x1 - x0, Y.getPixelForValue(-3.76) - Y.getPixelForValue(-3.5));
        start += n;
      });
      [[BOX_CON, 0, "#EE5C68"], [BOX_CSDS, 1, "#6B7A90"]].forEach(([rows, d, color]: any) => {
        const meta = chart.getDatasetMeta(d);
        ctx.strokeStyle = color;
        ctx.lineWidth = 3;
        rows.forEach((b, i) => {
          const x = meta.data[i].x;
          ctx.beginPath(); ctx.moveTo(x, Y.getPixelForValue(b[0])); ctx.lineTo(x, Y.getPixelForValue(b[4])); ctx.stroke();
          [b[0], b[4]].forEach((v) => { ctx.beginPath(); ctx.moveTo(x - 3, Y.getPixelForValue(v)); ctx.lineTo(x + 3, Y.getPixelForValue(v)); ctx.stroke(); });
        });
      });
      ctx.restore();
    },
    afterDatasetsDraw(chart) {
      const { ctx, scales: { x: X, y: Y } } = chart;
      ctx.save();
      [[BOX_CON, 0, "#EE5C68"], [BOX_CSDS, 1, "#6B7A90"]].forEach(([rows, d, color]: any) => {
        const meta = chart.getDatasetMeta(d);
        ctx.strokeStyle = color;
        ctx.lineWidth = 3;
        rows.forEach((b, i) => {
          const x = meta.data[i].x;
          ctx.beginPath(); ctx.moveTo(x - 5, Y.getPixelForValue(b[2])); ctx.lineTo(x + 5, Y.getPixelForValue(b[2])); ctx.stroke();
        });
      });
      const con = chart.getDatasetMeta(0), csds = chart.getDatasetMeta(1);
      ctx.strokeStyle = "#111";
      ctx.lineWidth = 2;
      BRACKETS.forEach(([topV, l, r], i) => {
        const xl = con.data[i].x - 1, xr = csds.data[i].x - 1;
        ctx.beginPath();
        ctx.moveTo(xl, Y.getPixelForValue(l));
        ctx.lineTo(xl, Y.getPixelForValue(topV));
        ctx.lineTo(xr, Y.getPixelForValue(topV));
        ctx.lineTo(xr, Y.getPixelForValue(r));
        ctx.stroke();
        text(ctx, STARS[i], (xl + xr) / 2, Y.getPixelForValue(topV) - 6, { align: "center", font: `24px ${FONT}`, color: "#111" });
      });
      ctx.restore();
      ctx.save();
      ctx.translate(-left, -top);
      [["CON", "#F7B7BB", "#EE5C68", 1740, 1748], ["CSDS", "#A5AEC0", "#6B7A90", 1771, 1779]].forEach(([s, fill, edge, y, ty]: any) => {
        ctx.fillStyle = fill; ctx.strokeStyle = edge; ctx.lineWidth = 3;
        ctx.fillRect(1684, y + 1, 38, 11); ctx.strokeRect(1684, y + 1, 38, 11);
        text(ctx, s, 1745, ty, { font: `25px ${FONT}`, color: "#222" });
      });
      text(ctx, "Relative abundance (Z-score)", 1606, 2042, { rot: -90, align: "center", font: `25.5px ${FONT}`, color: "#222" });
      text(ctx, "D", 1466, 1739, { font: `bold 46px ${FONT}`, color: "#000" });
      ctx.restore();
    },
  };
  const common = { borderWidth: 3, borderSkipped: false, barPercentage: 0.6, categoryPercentage: 0.75 };
  return new Chart(canvas, {
    type: "bar",
    data: {
      labels: PATHWAYS,
      datasets: [
        { label: "CON", data: BOX_CON.map((b) => [b[1], b[3]]), backgroundColor: "#F7B7BB", borderColor: "#EE5C68", ...common },
        { label: "CSDS", data: BOX_CSDS.map((b) => [b[1], b[3]]), backgroundColor: "#A5AEC0", borderColor: "#6B7A90", ...common },
      ],
    },
    options: {
      ...base,
      plugins: noPlugins,
      layout: { padding: { left: 1666 - left - 60, right: 3182 + 0 - 3181, top: 1755 - top, bottom: 0 } },
      scales: {
        y: {
          min: -4, max: 6,
          grid: { drawOnChartArea: false, drawTicks: true, tickLength: 10, tickWidth: 4, tickColor: "#000" },
          border: { display: true, width: 4, color: "#000" },
          ticks: { stepSize: 2, color: "#222", padding: 6, font: { family: "Liberation Sans", size: 27 } },
          afterFit: (s) => { s.width = 60; },
        },
        x: {
          grid: { drawOnChartArea: false, drawTicks: true, tickLength: 10, tickWidth: 4, tickColor: "#000" },
          border: { display: true, width: 5, color: "#000" },
          ticks: { autoSkip: false, minRotation: 43, maxRotation: 43, padding: 4, labelOffset: 6, color: "#222", font: { family: "Liberation Sans", size: 25.5 } },
          afterFit: (s) => { s.height = 2809 - 2328; },
        },
      },
    },
    plugins: [plugin],
  });
}

const A_BOX = { left: 0, top: 0, width: 1460, height: 1690 };
const B_BOX = { left: 1460, top: 0, width: 1722, height: 1690 };
const C_BOX = { left: 0, top: 1690, width: 1500, height: 1119 };
const D_BOX = { left: 1260, top: 1690, width: 1922, height: 1119 };

export default function App() {
  const a = useRef(null), b = useRef(null), c = useRef(null), d = useRef(null);
  useEffect(() => {
    const charts = [panelA(a.current), panelB(b.current, B_BOX.left), panelC(c.current, C_BOX.top), panelD(d.current, D_BOX.left, D_BOX.top)];
    return () => charts.forEach((ch) => ch.destroy());
  }, []);
  const st = (box) => ({ position: "absolute", left: box.left, top: box.top, width: box.width, height: box.height }) as any;
  return (
    <div style={{ position: "absolute", left: 0, top: 0, width: 3182, height: 2809, background: "#fff", overflow: "hidden" }}>
      <canvas ref={a} width={A_BOX.width} height={A_BOX.height} style={st(A_BOX)} />
      <canvas ref={b} width={B_BOX.width} height={B_BOX.height} style={st(B_BOX)} />
      <canvas ref={c} width={C_BOX.width} height={C_BOX.height} style={st(C_BOX)} />
      <canvas ref={d} width={D_BOX.width} height={D_BOX.height} style={st(D_BOX)} />
    </div>
  );
}
